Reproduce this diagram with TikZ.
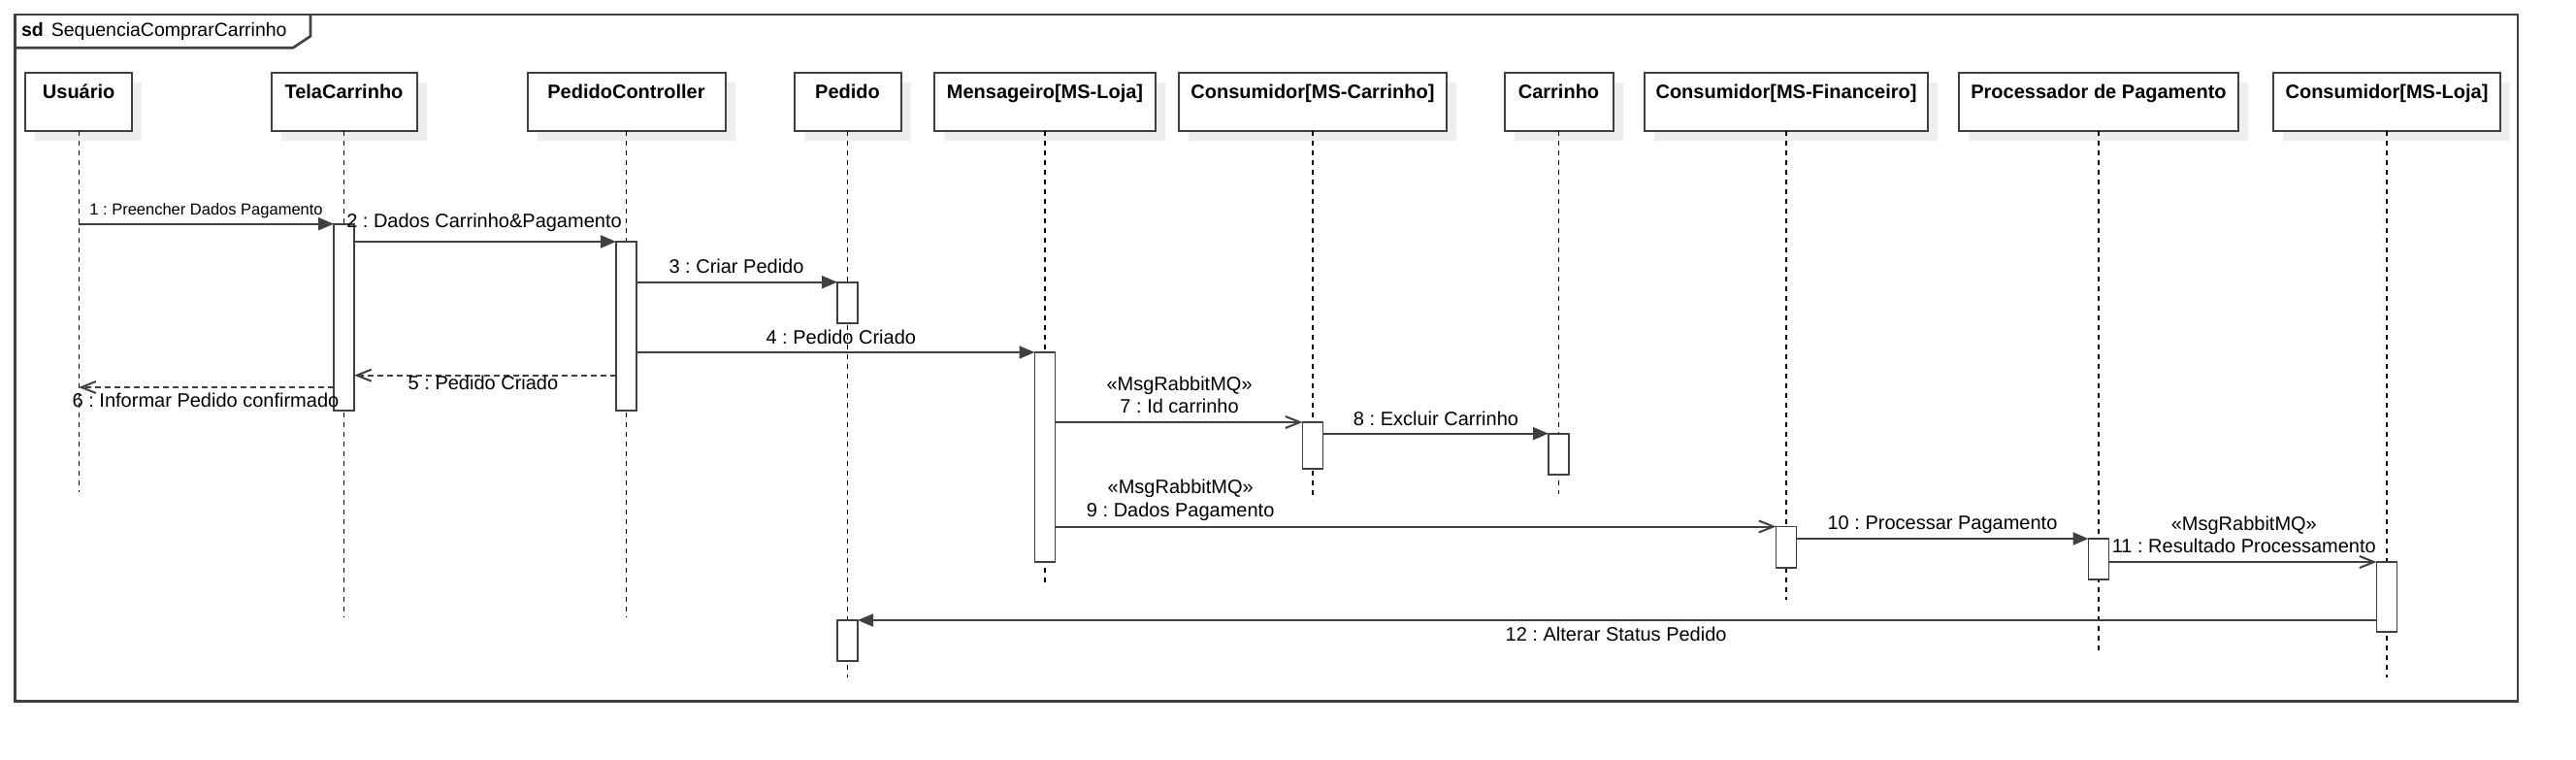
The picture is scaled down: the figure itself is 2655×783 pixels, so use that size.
\documentclass[tikz,border=0pt]{standalone}
\usepackage{fontspec}
\setmainfont{Liberation Sans}
\usetikzlibrary{arrows.meta,shadows}
\frenchspacing

\definecolor{linegray}{RGB}{64,64,64}
\definecolor{shadowgray}{RGB}{238,238,238}

\tikzset{
  frame/.style={draw=linegray, line width=2.6pt},
  head/.style={draw=linegray, line width=2pt, fill=white, anchor=north,
    font=\fontsize{20}{24}\selectfont\bfseries,
    text height=27pt, text depth=33.3pt, inner sep=0pt, outer sep=0pt,
    drop shadow={shadow xshift=10pt, shadow yshift=-10pt, fill=shadowgray, draw=none, opacity=1}},
  lifeline/.style={draw=black, line width=1.1pt, dash pattern=on 5pt off 5pt},
  act/.style={draw=linegray, line width=1.7pt, fill=white, anchor=north,
    minimum width=21pt, inner sep=0pt, outer sep=0pt},
  call/.style={draw=linegray, line width=2pt, -{Triangle[length=16pt,width=13pt]}},
  async/.style={draw=linegray, line width=2pt, -{Straight Barb[length=15pt,width=12pt]}},
  reply/.style={draw=linegray, line width=2pt, dash pattern=on 6pt off 4pt,
    -{Straight Barb[length=15pt,width=12pt]}},
  msglabel/.style={anchor=base, inner sep=0pt, font=\fontsize{20}{24}\selectfont},
}

\begin{document}
\begin{tikzpicture}[x=1pt, y=-1pt]

    \useasboundingbox (0,0) rectangle (2655,783);

    % frame and its tab
    \draw[frame] (15.6,15) rectangle (2595,722.7);
    \draw[frame] (15.6,49.3) -- (302,49.3) -- (320,37.3) -- (320,15);
    \node[anchor=base west, inner sep=0pt, font=\fontsize{19.5}{23}\selectfont] (title) at (21.9,37.3)
        {\textbf{sd}\hspace{8pt}SequenciaComprarCarrinho};

    % lifeline heads
    \node[head, minimum width=110pt] (usu) at (81.2,74.7) {Usuário};
    \node[head, minimum width=150pt] (tela) at (354.5,74.7) {TelaCarrinho};
    \node[head, minimum width=204pt] (pc) at (645.5,74.7) {PedidoController};
    \node[head, minimum width=110pt] (ped) at (873.5,74.7) {Pedido};
    \node[head, minimum width=228pt] (msg) at (1077,74.7) {Mensageiro[MS-Loja]};
    \node[head, minimum width=276pt] (cc) at (1353,74.7) {Consumidor[MS-Carrinho]};
    \node[head, minimum width=112pt] (car) at (1606.5,74.7) {Carrinho};
    \node[head, minimum width=292pt] (cf) at (1841,74.7) {Consumidor[MS-Financeiro]};
    \node[head, minimum width=288pt] (proc) at (2163,74.7) {Processador de Pagamento};
    \node[head, minimum width=234pt] (cl) at (2460,74.7) {Consumidor[MS-Loja]};

    % lifelines
    \draw[lifeline] (usu.south) -- (usu.south |- 0,506.7);
    \draw[lifeline] (tela.south) -- (tela.south |- 0,635.7);
    \draw[lifeline] (pc.south) -- (pc.south |- 0,635.7);
    \draw[lifeline] (ped.south) -- (ped.south |- 0,698.3);
    \draw[lifeline] (msg.south) -- (msg.south |- 0,605);
    \draw[lifeline] (cc.south) -- (cc.south |- 0,515);
    \draw[lifeline] (car.south) -- (car.south |- 0,509.3);
    \draw[lifeline] (cf.south) -- (cf.south |- 0,617.7);
    \draw[lifeline] (proc.south) -- (proc.south |- 0,671.7);
    \draw[lifeline] (cl.south) -- (cl.south |- 0,698.3);

    % activations
    \node[act, minimum height=192pt] (aTela) at (tela.south |- 0,230.7) {};
    \node[act, minimum height=173.7pt] (aPC) at (pc.south |- 0,249) {};
    \node[act, minimum height=42pt] (aPed1) at (ped.south |- 0,290.7) {};
    \node[act, minimum height=216pt] (aMsg) at (msg.south |- 0,363) {};
    \node[act, minimum height=47.7pt] (aCC) at (cc.south |- 0,435) {};
    \node[act, minimum height=42.3pt] (aCar) at (car.south |- 0,446.7) {};
    \node[act, minimum height=42.5pt] (aCF) at (cf.south |- 0,542.5) {};
    \node[act, minimum height=41.7pt] (aProc) at (proc.south |- 0,555) {};
    \node[act, minimum height=72pt] (aCL) at (cl.south |- 0,579) {};
    \node[act, minimum height=41.7pt] (aPed2) at (ped.south |- 0,639) {};

    \coordinate (y5) at (0,386.7);
    \coordinate (y6) at (0,399);

    % messages
    \draw[call] (usu.south |- aTela.north) -- (aTela.north west);
    \node[msglabel, font=\fontsize{16.5}{20}\selectfont] (m1) at (212.5,221.7) {1 : Preencher Dados Pagamento};

    \draw[call] (aTela.east |- aPC.north) -- (aPC.north west);
    \node[msglabel] (m2) at (499,234.3) {2 : Dados Carrinho\&Pagamento};

    \draw[call] (aPC.east |- aPed1.north) -- (aPed1.north west);
    \node[msglabel] (m3) at (759,281.7) {3 : Criar Pedido};

    \draw[call] (aPC.east |- aMsg.north) -- (aMsg.north west);
    \node[msglabel] (m4) at (866.8,354.3) {4 : Pedido Criado};

    \draw[reply] (aPC.west |- y5) -- (aTela.east |- y5);
    \node[msglabel] (m5) at (498,401.7) {5 : Pedido Criado};

    \draw[reply] (aTela.west |- y6) -- (usu.south |- y6);
    \node[msglabel] (m6) at (212,419.3) {6 : Informar Pedido confirmado};

    \draw[async] (aMsg.east |- aCC.north) -- (aCC.north west);
    \node[msglabel] (s7) at (1215.6,402.3) {«MsgRabbitMQ»};
    \node[msglabel] (m7) at (1215.6,425.7) {7 : Id carrinho};

    \draw[call] (aCC.east |- aCar.north) -- (aCar.north west);
    \node[msglabel] (m8) at (1480,438.3) {8 : Excluir Carrinho};

    \draw[async] (aMsg.east |- aCF.north) -- (aCF.north west);
    \node[msglabel] (s9) at (1216.7,508.3) {«MsgRabbitMQ»};
    \node[msglabel] (m9) at (1216.7,532.7) {9 : Dados Pagamento};

    \draw[call] (aCF.east |- aProc.north) -- (aProc.north west);
    \node[msglabel] (m10) at (2002,545.7) {10 : Processar Pagamento};

    \draw[async] (aProc.east |- aCL.north) -- (aCL.north west);
    \node[msglabel] (s11) at (2312.8,546.7) {«MsgRabbitMQ»};
    \node[msglabel] (m11) at (2312.8,569.3) {11 : Resultado Processamento};

    \draw[call] (aCL.west |- aPed2.north) -- (aPed2.north east);
    \node[msglabel] (m12) at (1665.6,660) {12 : Alterar Status Pedido};

\end{tikzpicture}
\end{document}
